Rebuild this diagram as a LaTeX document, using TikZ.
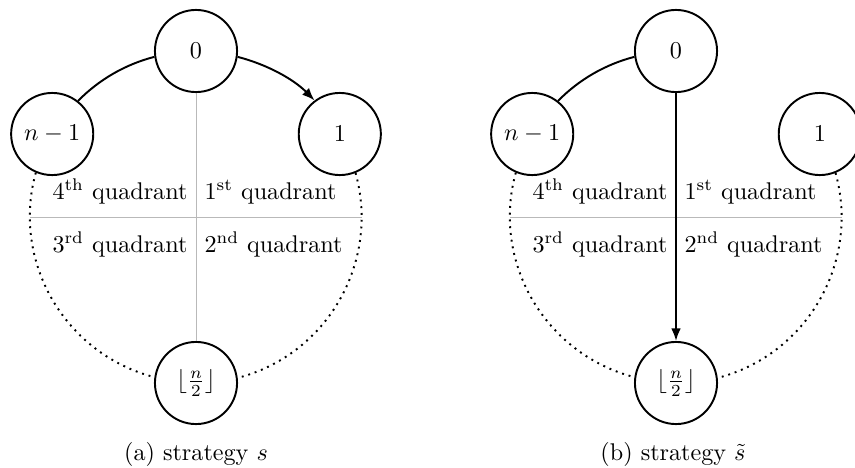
\documentclass[tikz,border=0pt]{standalone}
\usetikzlibrary{arrows.meta}
\begin{document}
\begin{tikzpicture}[x=0.414pt, y=0.414pt]
  \tikzstyle{vertex}=[circle, draw, thick, minimum size=34pt, inner sep=0pt, fill=white]
  \tikzstyle{axis}=[gray!55, line width=0.4pt]
  \tikzstyle{walk}=[thick]
  \tikzstyle{move}=[thick, -{Latex[length=5.2pt, width=4pt]}]
  \tikzstyle{rest}=[thick, dotted]
  \tikzstyle{quad}=[inner sep=3.33pt]

  \useasboundingbox (0,0) rectangle (855,467);

  % (a) strategy s
  \node[vertex] (a0) at (196,   416) {$0$};
  \node[vertex] (an) at (52.2,  333) {$n-1$};
  \node[vertex] (a1) at (339.8, 333) {$1$};
  \node[vertex] (af) at (196,   84)  {$\lfloor\frac{n}{2}\rfloor$};
  \coordinate (aw) at (30,  250);
  \coordinate (ae) at (362, 250);

  \draw[axis] (aw) -- (ae);
  \draw[axis] (a0) -- (af);

  \node[quad, anchor=base east] (a4) at (196, 268)   {4\textsuperscript{th} quadrant};
  \node[quad, anchor=base west] (a1q) at (196, 268)  {1\textsuperscript{st} quadrant};
  \node[quad, anchor=base east] (a3) at (196, 214.7) {3\textsuperscript{rd} quadrant};
  \node[quad, anchor=base west] (a2) at (196, 214.7) {2\textsuperscript{nd} quadrant};

  \draw[walk] (an.52.7) to[out=45.5, in=194.5, looseness=0.87] (a0.188);
  \draw[move] (a0.352) to[out=-14.5, in=134.5, looseness=0.87] (a1.127.3);
  \draw[rest] (an.247.2) to[out=254.5, in=165.5, looseness=1] (af.172.7);
  \draw[rest] (a1.292.8) to[out=285.5, in=14.5, looseness=1] (af.7.3);

  \node[anchor=base] (acap) at (196, 6.5) {(a) strategy $s$};

  % (b) strategy s~
  \node[vertex] (b0) at (676,   416) {$0$};
  \node[vertex] (bn) at (532.2, 333) {$n-1$};
  \node[vertex] (b1) at (819.8, 333) {$1$};
  \node[vertex] (bf) at (676,   84)  {$\lfloor\frac{n}{2}\rfloor$};
  \coordinate (bw) at (510, 250);
  \coordinate (be) at (842, 250);

  \draw[axis] (bw) -- (be);

  \node[quad, anchor=base east] (b4) at (676, 268)   {4\textsuperscript{th} quadrant};
  \node[quad, anchor=base west] (b1q) at (676, 268)  {1\textsuperscript{st} quadrant};
  \node[quad, anchor=base east] (b3) at (676, 214.7) {3\textsuperscript{rd} quadrant};
  \node[quad, anchor=base west] (b2) at (676, 214.7) {2\textsuperscript{nd} quadrant};

  \draw[walk] (bn.52.7) to[out=45.5, in=194.5, looseness=0.87] (b0.188);
  \draw[move] (b0) -- (bf);
  \draw[rest] (bn.247.2) to[out=254.5, in=165.5, looseness=1] (bf.172.7);
  \draw[rest] (b1.292.8) to[out=285.5, in=14.5, looseness=1] (bf.7.3);

  \node[anchor=base] (bcap) at (673, 6.5) {(b) strategy $\tilde{s}$};
\end{tikzpicture}
\end{document}
